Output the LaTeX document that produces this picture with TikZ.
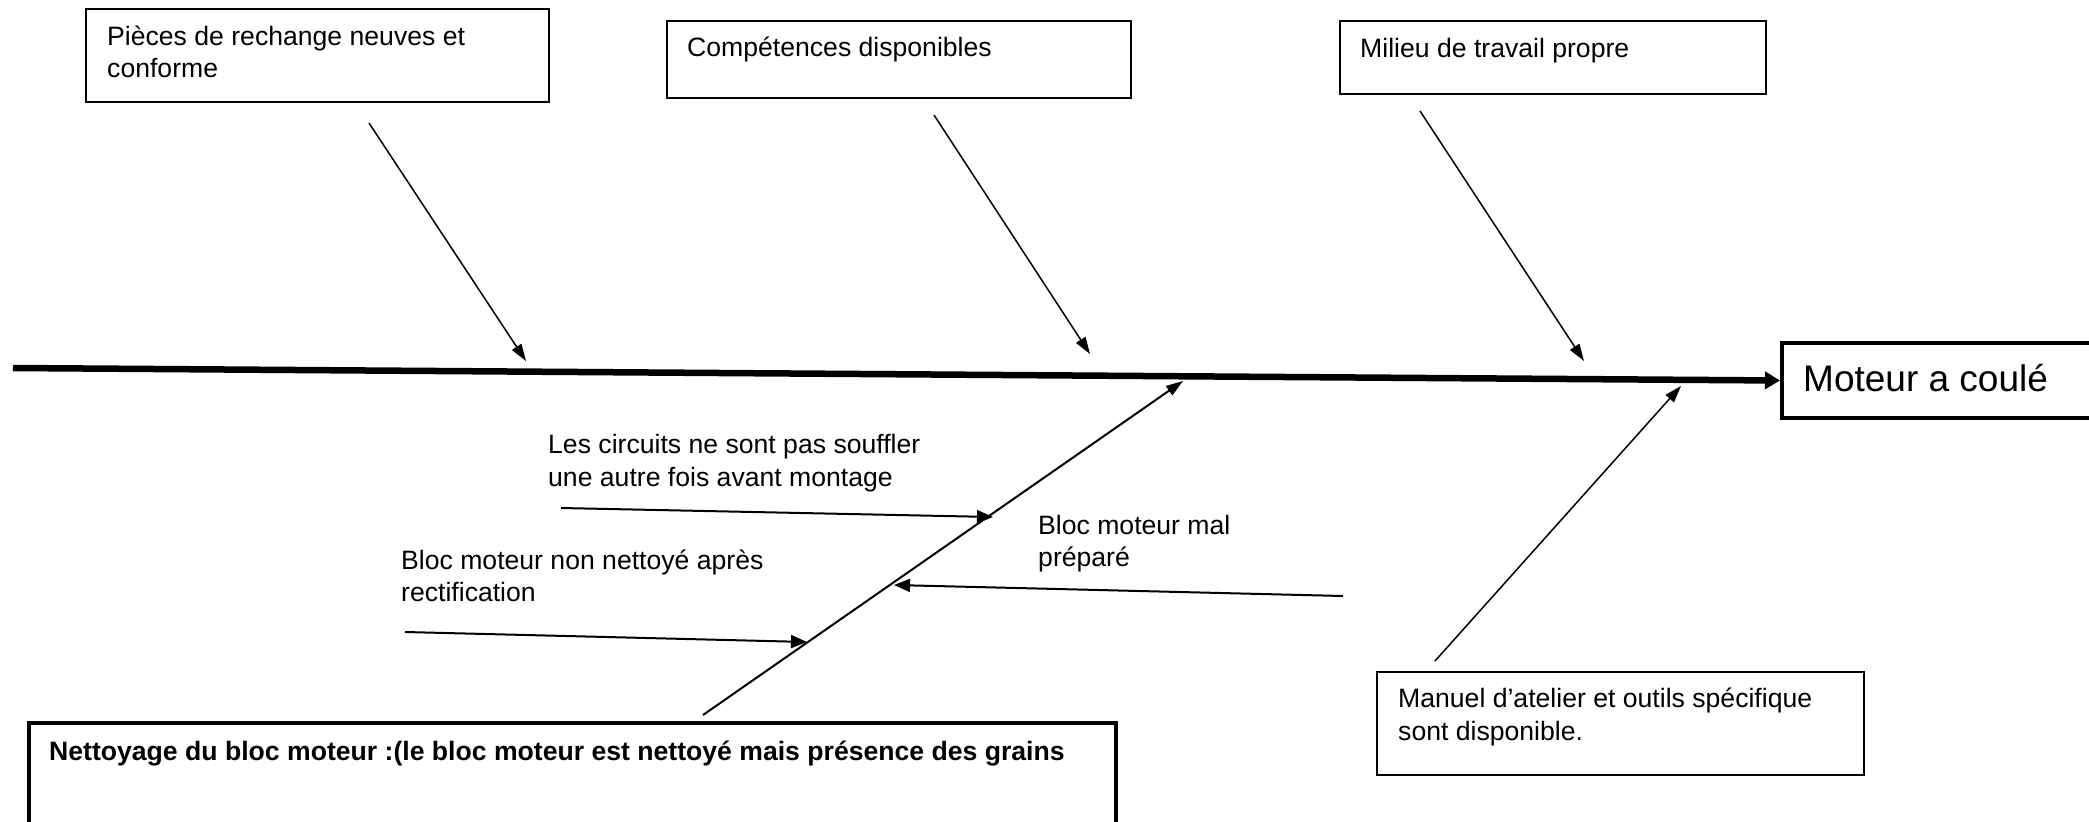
\documentclass[tikz,border=0pt]{standalone}
\usepackage{fontspec}
\setmainfont{Liberation Sans}
\usetikzlibrary{arrows.meta}
\begin{document}
\begin{tikzpicture}[x=1pt,y=-1pt,
  box/.style={draw, line width=1.6pt, anchor=north west, inner sep=0pt},
  thickbox/.style={draw, line width=4pt, anchor=north west, inner sep=0pt},
  txt/.style={anchor=base west, inner sep=0pt, font=\fontsize{26.6}{32}\selectfont},
  bigtxt/.style={anchor=base west, inner sep=0pt, font=\fontsize{37}{44}\selectfont},
  arr/.style={line width=1.5pt, -{Triangle[length=17pt,width=11pt]}},
  subarr/.style={line width=2pt, -{Triangle[length=16pt,width=13pt]}},
  mainarr/.style={line width=6.5pt, -{Triangle[length=15pt,width=17pt]}}
]
\useasboundingbox (0,0) rectangle (2089,822);
\clip (0,0) rectangle (2089,822);
\fill[white] (0,0) rectangle (2089,822);

% boxes
\node[box, minimum width=463pt, minimum height=93pt] (boxA) at (85,8) {};
\node[box, minimum width=464pt, minimum height=77pt] (boxB) at (666,20) {};
\node[box, minimum width=426pt, minimum height=73pt] (boxC) at (1339,20) {};
\node[thickbox, minimum width=340pt, minimum height=75pt] (boxD) at (1780,341) {};
\node[box, minimum width=487pt, minimum height=103pt] (boxE) at (1376,671) {};
\node[thickbox, minimum width=1087pt, minimum height=140pt] (boxF) at (27,721) {};

% box texts
\node[txt] (tA1) at (107,45) {Pièces de rechange neuves et};
\node[txt] (tA2) at (107,77) {conforme};
\node[txt] (tB) at (687,56) {Compétences disponibles};
\node[txt] (tC) at (1360,57) {Milieu de travail propre};
\node[bigtxt] (tD) at (1803,391) {Moteur a coulé};
\node[txt] (tE1) at (1398,707) {Manuel d’atelier et outils spécifique};
\node[txt] (tE2) at (1398,740) {sont disponible.};
\node[txt, font=\fontsize{26.6}{32}\selectfont\bfseries] (tF) at (49,760) {Nettoyage du bloc moteur :(le bloc moteur est nettoyé mais présence des grains};

% labels
\node[txt] (l1a) at (548,453) {Les circuits ne sont pas souffler};
\node[txt] (l1b) at (548,486) {une autre fois avant montage};
\node[txt] (l2a) at (1038,534) {Bloc moteur mal};
\node[txt] (l2b) at (1038,566) {préparé};
\node[txt] (l3a) at (401,569) {Bloc moteur non nettoyé après};
\node[txt] (l3b) at (401,601) {rectification};

% coordinates
\coordinate (mainS) at (13,368);
\coordinate (aS) at (369,123);  \coordinate (aE) at (526,361);
\coordinate (bS) at (934,115);  \coordinate (bE) at (1090,354);
\coordinate (cS) at (1420,111); \coordinate (cE) at (1584,361);
\coordinate (dS) at (703,715);  \coordinate (dE) at (1183,381);
\coordinate (eS) at (1435,661); \coordinate (eE) at (1681,386);
\coordinate (s1S) at (561,508); \coordinate (s1E) at (993,517);
\coordinate (s2S) at (1343,596); \coordinate (s2E) at (894,585);
\coordinate (s3S) at (405,632); \coordinate (s3E) at (807,642);

% main spine
\draw[mainarr] (mainS) -- (boxD.west);

% branches
\draw[arr] (aS) -- (aE);
\draw[arr] (bS) -- (bE);
\draw[arr] (cS) -- (cE);
\draw[arr, line width=2pt] (dS) -- (dE);
\draw[arr] (eS) -- (eE);
\draw[subarr] (s1S) -- (s1E);
\draw[subarr] (s2S) -- (s2E);
\draw[subarr] (s3S) -- (s3E);
\end{tikzpicture}
\end{document}
